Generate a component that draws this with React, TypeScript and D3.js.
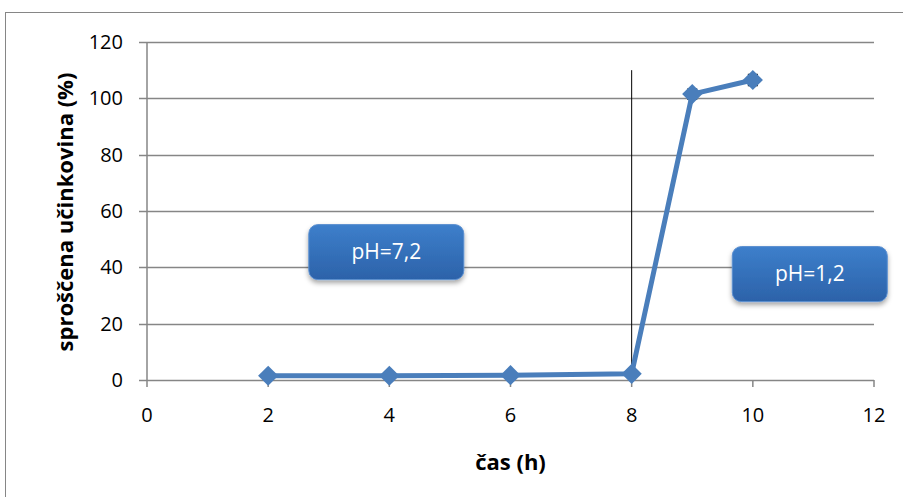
import { useEffect, useRef } from 'react';
import * as d3 from 'd3';

const hours = [2, 4, 6, 8, 9, 10];
const released = [1.5, 1.5, 1.7, 2.2, 101.5, 106.5];
const errors = [0.3, 0.3, 0.3, 0.3, 1.8, 2.0];
const xTicks = [0, 2, 4, 6, 8, 10, 12];
const yTicks = [0, 20, 40, 60, 80, 100, 120];
const phLabels = [
  { text: 'pH=7,2', x: 3.95, y: 45.4 },
  { text: 'pH=1,2', x: 10.94, y: 37.6 },
];
const switchHour = 8;
const switchTop = 110;

const W = 903;
const H = 497;
const FONT = '"Open Sans", "Liberation Sans", sans-serif';

export default function App() {
  const svgRef = useRef<SVGSVGElement>(null);

  useEffect(() => {
    if (!svgRef.current) return;
    const svg = d3.select(svgRef.current);
    svg.selectAll('*').remove();

    const x = d3.scaleLinear().domain([0, 12]).range([147, 874]);
    const y = d3.scaleLinear().domain([0, 120]).range([380, 42]);

    const defs = svg.append('defs');
    const grad = defs.append('linearGradient').attr('id', 'boxGrad')
      .attr('x1', 0).attr('y1', 0).attr('x2', 0).attr('y2', 1);
    grad.append('stop').attr('offset', '0%').attr('stop-color', '#3d7fcb');
    grad.append('stop').attr('offset', '100%').attr('stop-color', '#2c62a9');
    const shadow = defs.append('filter').attr('id', 'shadow')
      .attr('x', '-20%').attr('y', '-20%').attr('width', '140%').attr('height', '160%');
    shadow.append('feDropShadow').attr('dx', 0).attr('dy', 3).attr('stdDeviation', 2.5)
      .attr('flood-color', '#000').attr('flood-opacity', 0.35);

    // chart frame
    svg.append('rect').attr('x', 5.5).attr('y', 12.5).attr('width', 910).attr('height', 500)
      .attr('fill', '#fff').attr('stroke', '#868686').attr('stroke-width', 1);

    // gridlines
    svg.append('g').selectAll('line').data(yTicks.slice(1)).join('line')
      .attr('x1', x(0)).attr('x2', x(12))
      .attr('y1', d => Math.round(y(d)) + 0.5).attr('y2', d => Math.round(y(d)) + 0.5)
      .attr('stroke', '#868686').attr('stroke-width', 1.5);

    // y axis
    svg.append('line').attr('x1', x(0)).attr('x2', x(0)).attr('y1', y(120)).attr('y2', y(0))
      .attr('stroke', '#868686').attr('stroke-width', 1.5);
    svg.append('g').selectAll('line').data(yTicks).join('line')
      .attr('x1', x(0) - 8).attr('x2', x(0))
      .attr('y1', d => Math.round(y(d)) + 0.5).attr('y2', d => Math.round(y(d)) + 0.5)
      .attr('stroke', '#868686').attr('stroke-width', 1.5);
    svg.append('g').selectAll('text').data(yTicks).join('text')
      .attr('x', x(0) - 24).attr('y', d => y(d)).attr('dy', '0.35em')
      .attr('text-anchor', 'end').attr('font-family', FONT).attr('font-size', 20)
      .attr('fill', '#000').text(d => d);

    // x axis
    svg.append('line').attr('x1', x(0)).attr('x2', x(12))
      .attr('y1', Math.round(y(0)) + 0.5).attr('y2', Math.round(y(0)) + 0.5)
      .attr('stroke', '#868686').attr('stroke-width', 1.5);
    svg.append('g').selectAll('line').data(xTicks).join('line')
      .attr('x1', d => x(d)).attr('x2', d => x(d))
      .attr('y1', y(0)).attr('y2', y(0) + 7)
      .attr('stroke', '#868686').attr('stroke-width', 1.5);
    svg.append('g').selectAll('text').data(xTicks).join('text')
      .attr('x', d => x(d)).attr('y', y(0) + 42)
      .attr('text-anchor', 'middle').attr('font-family', FONT).attr('font-size', 20)
      .attr('fill', '#000').text(d => d);

    // axis titles
    svg.append('text').attr('x', x(6)).attr('y', 470).attr('text-anchor', 'middle')
      .attr('font-family', FONT).attr('font-size', 22).attr('font-weight', 'bold')
      .text('čas (h)');
    svg.append('text').attr('transform', `translate(73,212) rotate(-90)`)
      .attr('text-anchor', 'middle').attr('font-family', FONT).attr('font-size', 22)
      .attr('font-weight', 'bold').text('sproščena učinkovina (%)');

    // pH switch line
    svg.append('line').attr('x1', x(switchHour)).attr('x2', x(switchHour))
      .attr('y1', y(switchTop)).attr('y2', y(0))
      .attr('stroke', '#000').attr('stroke-width', 1);

    // series line
    const pts = hours.map((h, i) => ({ h, v: released[i], e: errors[i] }));
    const line = d3.line<typeof pts[0]>().x(d => x(d.h)).y(d => y(d.v));
    svg.append('path').datum(pts).attr('d', line).attr('fill', 'none')
      .attr('stroke', '#4a7ebb').attr('stroke-width', 5).attr('stroke-linejoin', 'round');

    // error bars
    const eb = svg.append('g').attr('stroke', '#000').attr('stroke-width', 1.2);
    pts.forEach(d => {
      eb.append('line').attr('x1', x(d.h)).attr('x2', x(d.h))
        .attr('y1', y(d.v + d.e)).attr('y2', y(d.v - d.e));
      [d.v + d.e, d.v - d.e].forEach(v => {
        eb.append('line').attr('x1', x(d.h) - 5).attr('x2', x(d.h) + 5)
          .attr('y1', y(v)).attr('y2', y(v));
      });
    });

    // markers
    const diamond = d3.symbol().type(d3.symbolDiamond2).size(260);
    svg.append('g').selectAll('path').data(pts).join('path')
      .attr('transform', d => `translate(${x(d.h)},${y(d.v)})`)
      .attr('d', diamond).attr('fill', '#4a7ebb');

    // pH boxes
    const bw = 155;
    const bh = 55;
    phLabels.forEach(p => {
      const cx = x(p.x);
      const cy = y(p.y);
      svg.append('rect').attr('x', cx - bw / 2).attr('y', cy - bh / 2)
        .attr('width', bw).attr('height', bh).attr('rx', 9)
        .attr('fill', 'url(#boxGrad)').attr('stroke', '#5b8fd0').attr('stroke-width', 1)
        .attr('filter', 'url(#shadow)');
      svg.append('text').attr('x', cx).attr('y', cy).attr('dy', '0.35em')
        .attr('text-anchor', 'middle').attr('font-family', FONT).attr('font-size', 21)
        .attr('fill', '#fff').text(p.text);
    });
  }, []);

  return (
    <div style={{ position: 'absolute', left: 0, top: 0, width: W, height: H, background: '#fff' }}>
      <svg ref={svgRef} width={W} height={H} style={{ display: 'block' }} />
    </div>
  );
}
